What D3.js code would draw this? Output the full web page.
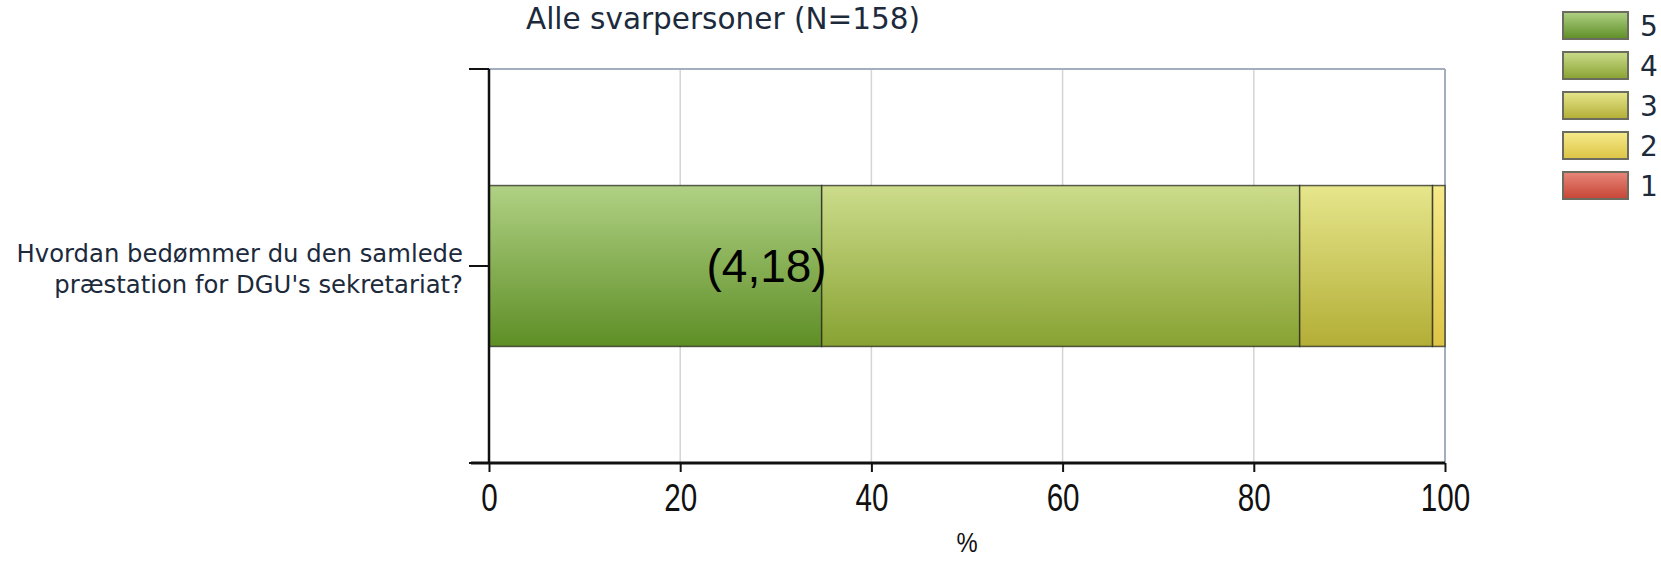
<!DOCTYPE html>
<html>
<head>
<meta charset="utf-8">
<script src="https://cdn.jsdelivr.net/npm/d3@7"></script>
<style>
  body { margin: 0; background: #fff; }
  svg { display: block; }
</style>
</head>
<body>
<div id="chart"></div>
<script>
// Data
const title = "Alle svarpersoner (N=158)";
const categories = ["Hvordan bedømmer du den samlede præstation for DGU's sekretariat?"];
const categoryLines = [["Hvordan bedømmer du den samlede", "præstation for DGU's sekretariat?"]];
const scores = ["5", "4", "3", "2", "1"];
const percents = [34.8, 50.0, 13.9, 1.3, 0.0];
const meanLabels = ["(4,18)"];
const xTicks = [0, 20, 40, 60, 80, 100];
const xLabel = "%";

// gradient colours per score (top, bottom)
const colorTop = ["#b0d184", "#ccdc8b", "#e6e68c", "#f6ea8a", "#e8877a"];
const colorBottom = ["#5e8e26", "#88a232", "#b3ae36", "#dcc445", "#c64535"];

const width = 1661;
const height = 562;
const margin = {left: 489, top: 69, right: 216, bottom: 99};
const innerW = width - margin.left - margin.right;
const innerH = height - margin.top - margin.bottom;

const svg = d3.select("#chart")
    .append("svg")
    .attr("width", width)
    .attr("height", height);

const defs = svg.append("defs");
scores.forEach((s, i) => {
    const g = defs.append("linearGradient")
        .attr("id", "grad" + s)
        .attr("x1", 0).attr("y1", 0).attr("x2", 0).attr("y2", 1);
    g.append("stop").attr("offset", "0%").attr("stop-color", colorTop[i]);
    g.append("stop").attr("offset", "100%").attr("stop-color", colorBottom[i]);
});

const x = d3.scaleLinear().domain([0, 100]).range([0, innerW]);
const y = d3.scaleBand().domain(categories).range([0, innerH]).padding(0.42);

const g = svg.append("g").attr("transform", `translate(${margin.left},${margin.top})`);

// grid lines
g.selectAll(".grid")
    .data(xTicks.filter(t => t > 0 && t < 100))
    .enter()
    .append("line")
    .attr("x1", d => x(d)).attr("x2", d => x(d))
    .attr("y1", 0).attr("y2", innerH)
    .attr("stroke", "#d4d4d4")
    .attr("stroke-width", 1.5);

// plot frame top/right
g.append("line")
    .attr("x1", 0).attr("x2", innerW).attr("y1", 0).attr("y2", 0)
    .attr("stroke", "#a3afbf").attr("stroke-width", 2);
g.append("line")
    .attr("x1", innerW).attr("x2", innerW).attr("y1", 0).attr("y2", innerH)
    .attr("stroke", "#a3afbf").attr("stroke-width", 2);

// stacked segments
const stack = [];
let acc = 0;
percents.forEach((p, i) => {
    stack.push({score: scores[i], x0: acc, x1: acc + p, cat: categories[0]});
    acc += p;
});

g.selectAll(".seg")
    .data(stack.filter(d => d.x1 > d.x0))
    .enter()
    .append("rect")
    .attr("x", d => x(d.x0))
    .attr("y", d => y(d.cat))
    .attr("width", d => x(d.x1) - x(d.x0))
    .attr("height", y.bandwidth())
    .attr("fill", d => `url(#grad${d.score})`)
    .attr("stroke", "rgba(40,40,30,0.75)")
    .attr("stroke-width", 1.5);

// mean label
g.append("text")
    .attr("x", x(percents[0]) + 5)
    .attr("y", y(categories[0]) + y.bandwidth() / 2)
    .attr("dy", "0.35em")
    .attr("text-anchor", "end")
    .attr("font-family", "Liberation Sans, Arial, sans-serif")
    .attr("font-size", 46)
    .attr("fill", "#000")
    .text(meanLabels[0]);

// x axis
const xAxis = g.append("g")
    .attr("transform", `translate(0,${innerH})`)
    .call(d3.axisBottom(x).tickValues(xTicks).tickSize(9).tickPadding(12));
xAxis.select(".domain").attr("stroke", "#111").attr("stroke-width", 3)
    .attr("d", `M-18,0H${innerW}`);
xAxis.selectAll(".tick line").attr("stroke", "#111").attr("stroke-width", 2);
xAxis.selectAll(".tick text")
    .attr("font-family", "Liberation Sans, Arial, sans-serif")
    .attr("font-size", 38)
    .attr("transform", "scale(0.78,1)")
    .attr("fill", "#111");

g.append("text")
    .attr("transform", `translate(${innerW / 2},${innerH + 89}) scale(0.85,1)`)
    .attr("text-anchor", "middle")
    .attr("font-family", "Liberation Sans, Arial, sans-serif")
    .attr("font-size", 28)
    .attr("fill", "#111")
    .text(xLabel);

// y axis
g.append("line")
    .attr("x1", 0).attr("x2", 0).attr("y1", 0).attr("y2", innerH)
    .attr("stroke", "#111").attr("stroke-width", 2.5);
const yTickPos = [0, y(categories[0]) + y.bandwidth() / 2, innerH];
g.selectAll(".ytick")
    .data(yTickPos)
    .enter()
    .append("line")
    .attr("x1", -20).attr("x2", 0)
    .attr("y1", d => d).attr("y2", d => d)
    .attr("stroke", "#111").attr("stroke-width", 2);

// category label
const catText = g.append("text")
    .attr("text-anchor", "end")
    .attr("font-family", "DejaVu Sans, Verdana, sans-serif")
    .attr("font-size", 24.3)
    .attr("fill", "#1c2a3c");
categoryLines[0].forEach((line, i) => {
    catText.append("tspan")
        .attr("x", -26)
        .attr("y", y(categories[0]) + y.bandwidth() / 2 - 4 + i * 31)
        .text(line);
});

// title
svg.append("text")
    .attr("x", 723)
    .attr("y", 29)
    .attr("text-anchor", "middle")
    .attr("font-family", "DejaVu Sans, Verdana, sans-serif")
    .attr("font-size", 29.5)
    .attr("fill", "#1c2a3c")
    .text(title);

// legend
const legend = svg.append("g").attr("transform", "translate(1563,12)");
legend.selectAll("rect")
    .data(scores)
    .enter()
    .append("rect")
    .attr("x", 0)
    .attr("y", (d, i) => i * 40)
    .attr("width", 65)
    .attr("height", 27)
    .attr("fill", d => `url(#grad${d})`)
    .attr("stroke", "#6b6b60")
    .attr("stroke-width", 2);
legend.selectAll("text")
    .data(scores)
    .enter()
    .append("text")
    .attr("x", 77)
    .attr("y", (d, i) => i * 40 + 14)
    .attr("dy", "0.36em")
    .attr("font-family", "DejaVu Sans, Verdana, sans-serif")
    .attr("font-size", 28)
    .attr("fill", "#1c2a3c")
    .text(d => d);
</script>
</body>
</html>
